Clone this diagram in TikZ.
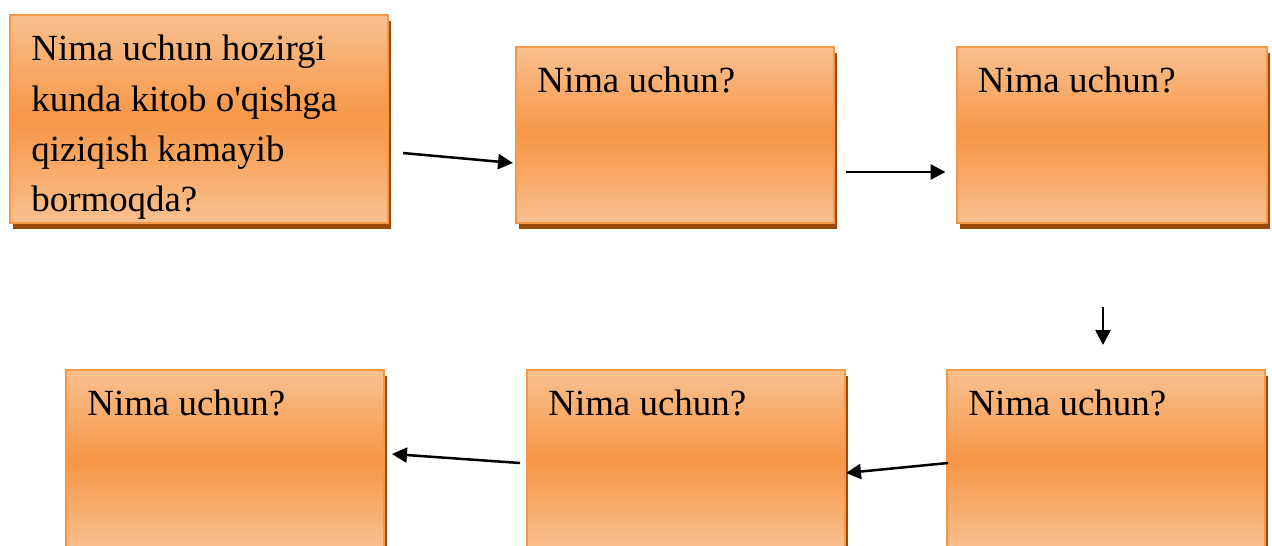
\documentclass[tikz,border=0pt]{standalone}
\usepackage{fontspec}
\setmainfont{Liberation Serif}
\usetikzlibrary{arrows.meta,calc,shadows}

\definecolor{boxlight}{HTML}{F9C08F}
\definecolor{boxmid}{HTML}{F79646}
\definecolor{boxline}{HTML}{F79646}
\definecolor{boxshadow}{HTML}{9C4A0A}

\tikzset{
  qbox/.style={draw=boxline, line width=0.04cm, outer sep=0pt, inner sep=0pt,
    top color=boxlight, bottom color=boxlight, middle color=boxmid,
    drop shadow={shadow xshift=0.06cm, shadow yshift=-0.12cm, fill=boxshadow, opacity=1},
    minimum width=6.36cm, minimum height=3.52cm},
  qtext/.style={anchor=north west, inner sep=0pt, xshift=0.42cm, yshift=-0.4cm,
    align=left, font=\fontsize{21}{28.5}\selectfont},
  arr/.style={line width=0.05cm, -{Triangle[length=0.3cm, width=0.3cm]}}
}

\begin{document}
\begin{tikzpicture}[x=0.02cm, y=-0.02cm]
    \clip (0,0) rectangle (1272,545);

    % top row
    \node[qbox, minimum width=7.56cm, minimum height=4.16cm,
      label={[qtext]north west:{Nima uchun hozirgi\\kunda kitob o\textquotesingle qishga\\qiziqish kamayib\\bormoqda?}}] (b1) at (199,119) {};
    \node[qbox, label={[qtext]north west:Nima uchun?}] (b2) at (675,135) {};
    \node[qbox, minimum width=6.22cm, label={[qtext]north west:Nima uchun?}] (b3) at (1112,135) {};

    % bottom row
    \node[qbox, minimum height=3.6cm, label={[qtext]north west:Nima uchun?}] (b6) at (1106,460) {};
    \node[qbox, minimum height=3.6cm, label={[qtext]north west:Nima uchun?}] (b5) at (686,460) {};
    \node[qbox, minimum height=3.6cm, label={[qtext]north west:Nima uchun?}] (b4) at (225,460) {};

    \draw[arr] ($(b1.east)+(15,34)$) -- ($(b2.west)+(-3,28)$);
    \draw[arr] ($(b2.east)+(12,37)$) -- ($(b3.west)+(-11,37)$);
    \draw[arr] ($(b3.south)+(-9,84)$) -- ($(b6.north)+(-3,-25)$);
    \draw[arr] ($(b6.west)+(1,3)$) -- ($(b5.east)+(1,13)$);
    \draw[arr] ($(b5.west)+(-7,3)$) -- ($(b4.east)+(8,-6)$);
\end{tikzpicture}
\end{document}
